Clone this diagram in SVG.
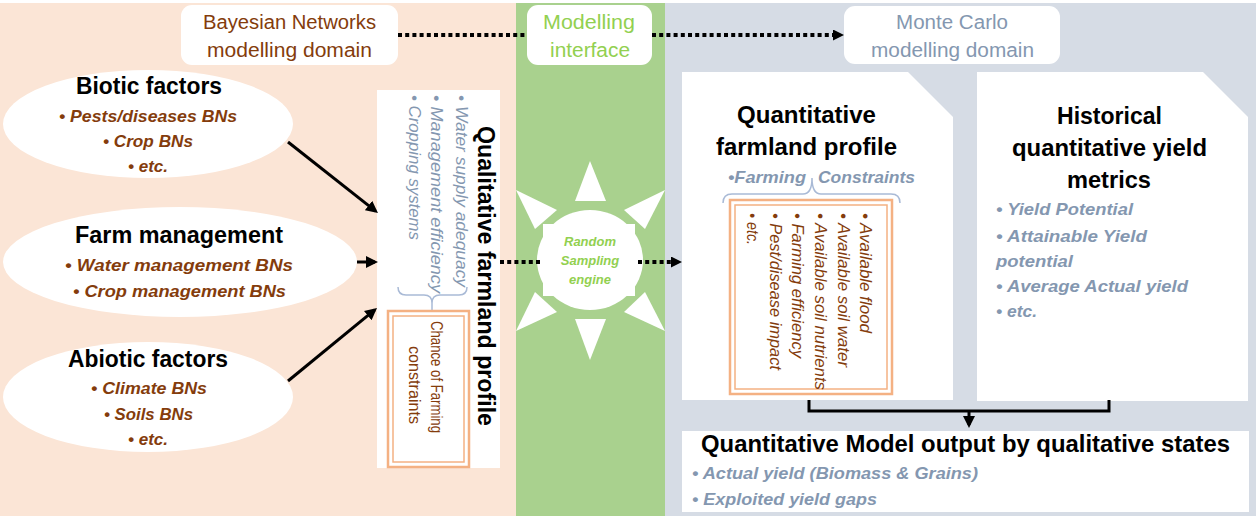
<svg xmlns="http://www.w3.org/2000/svg" width="1256" height="525" viewBox="0 0 1256 525">
<defs>
<style>
text{font-family:"Liberation Sans",Arial,sans-serif}
.h{font-weight:bold;fill:#000}
.lab{font-size:20px}
.br{fill:#843C0C;font-style:italic;font-weight:bold;font-size:17px}
.bl{fill:#8497B0;font-style:italic;font-weight:bold;font-size:17px}
.ri{fill:#8497B0;font-style:italic;font-size:16px}
.rb{fill:#843C0C;font-style:italic;font-size:17px}
.conn{stroke:#000;stroke-width:3;fill:none}
.dot{stroke:#000;stroke-width:4;stroke-dasharray:4 3.2;fill:none}
.dbl{fill:none;stroke:#F4B183}
.brace{fill:none;stroke:#A9BAD6;stroke-width:1.5}
.w{fill:#fff}
</style>
<marker id="ah" markerUnits="userSpaceOnUse" markerWidth="12" markerHeight="12" viewBox="0 0 12 12" refX="9" refY="6" orient="auto">
<path d="M0,0 L12,6 L0,12 Z" fill="#000"/>
</marker>
<marker id="ahd" markerUnits="userSpaceOnUse" markerWidth="11" markerHeight="11" viewBox="0 0 11 11" refX="3" refY="5.5" orient="auto">
<path d="M0,0 L11,5.5 L0,11 Z" fill="#000"/>
</marker>
</defs>
<rect x="0" y="0" width="1256" height="525" fill="#fff"/>
<g id="panels">
<rect x="0" y="3" width="516" height="513" fill="#FBE5D6"/>
<rect x="516" y="3" width="149" height="513" fill="#A9D18E"/>
<rect x="665" y="3" width="591" height="513" fill="#D6DCE5"/>
</g>

<g id="label-bn">
<rect x="181" y="5" width="217" height="60" rx="11" class="w"/>
<text x="289.5" y="29" class="lab" fill="#843C0C" text-anchor="middle" textLength="173" lengthAdjust="spacingAndGlyphs">Bayesian Networks</text>
<text x="289.5" y="57" class="lab" fill="#843C0C" text-anchor="middle" textLength="165" lengthAdjust="spacingAndGlyphs">modelling domain</text>
</g>
<g id="label-interface">
<rect x="527" y="5" width="125" height="60" rx="11" class="w"/>
<text x="589" y="29" class="lab" fill="#92D050" text-anchor="middle" textLength="92" lengthAdjust="spacingAndGlyphs">Modelling</text>
<text x="590" y="57" class="lab" fill="#92D050" text-anchor="middle" textLength="80" lengthAdjust="spacingAndGlyphs">interface</text>
</g>
<g id="label-mc">
<rect x="844" y="6" width="216" height="58" rx="11" class="w"/>
<text x="952" y="29" class="lab" fill="#8497B0" text-anchor="middle" textLength="112" lengthAdjust="spacingAndGlyphs">Monte Carlo</text>
<text x="952.5" y="57" class="lab" fill="#8497B0" text-anchor="middle" textLength="163" lengthAdjust="spacingAndGlyphs">modelling domain</text>
</g>

<g id="biotic">
<ellipse cx="148" cy="124" rx="145" ry="54" class="w"/>
<text x="149" y="94" class="h" font-size="23" text-anchor="middle" textLength="146" lengthAdjust="spacingAndGlyphs">Biotic factors</text>
<text x="148" y="122" class="br" text-anchor="middle" textLength="178" lengthAdjust="spacingAndGlyphs">• Pests/diseases  BNs</text>
<text x="148" y="147" class="br" text-anchor="middle" textLength="90" lengthAdjust="spacingAndGlyphs">• Crop BNs</text>
<text x="148" y="172" class="br" text-anchor="middle" textLength="40" lengthAdjust="spacingAndGlyphs">• etc.</text>
</g>
<g id="farm">
<ellipse cx="180" cy="262" rx="177" ry="55" class="w"/>
<text x="179" y="243" class="h" font-size="23" text-anchor="middle" textLength="208" lengthAdjust="spacingAndGlyphs">Farm management</text>
<text x="179" y="271" class="br" text-anchor="middle" textLength="228" lengthAdjust="spacingAndGlyphs">• Water management  BNs</text>
<text x="179.5" y="297" class="br" text-anchor="middle" textLength="213" lengthAdjust="spacingAndGlyphs">• Crop management  BNs</text>
</g>
<g id="abiotic">
<ellipse cx="148" cy="397" rx="145" ry="55" class="w"/>
<text x="148" y="367" class="h" font-size="23" text-anchor="middle" textLength="160" lengthAdjust="spacingAndGlyphs">Abiotic factors</text>
<text x="149" y="394" class="br" text-anchor="middle" textLength="116" lengthAdjust="spacingAndGlyphs">• Climate BNs</text>
<text x="148.5" y="420" class="br" text-anchor="middle" textLength="89" lengthAdjust="spacingAndGlyphs">• Soils BNs</text>
<text x="148" y="445" class="br" text-anchor="middle" textLength="40" lengthAdjust="spacingAndGlyphs">• etc.</text>
</g>

<g id="qualitative">
<rect x="377" y="90" width="123" height="378" class="w"/>
<text transform="translate(478,126) rotate(90)" class="h" font-size="23" textLength="300" lengthAdjust="spacingAndGlyphs">Qualitative farmland profile</text>
<text transform="translate(456,95) rotate(90)" class="ri" textLength="192" lengthAdjust="spacingAndGlyphs">• Water supply adequacy</text>
<text transform="translate(431,95) rotate(90)" class="ri" textLength="198" lengthAdjust="spacingAndGlyphs">• Management efficiency</text>
<text transform="translate(409,95) rotate(90)" class="ri" textLength="145" lengthAdjust="spacingAndGlyphs">• Cropping systems</text>
<path class="brace" d="M398,287 Q398,295 406,295 H424 Q432,295 432,303 V310 M432,303 Q432,295 440,295 H459 Q467,295 467,287"/>
<rect x="388" y="311" width="81" height="156" class="dbl" stroke-width="2.5"/>
<rect x="393" y="316" width="71" height="146" class="dbl" stroke-width="1.5"/>
<text transform="translate(431,321) rotate(90)" fill="#843C0C" font-size="16" textLength="112" lengthAdjust="spacingAndGlyphs">Chance of Farming</text>
<text transform="translate(409,346) rotate(90)" fill="#843C0C" font-size="16" textLength="78" lengthAdjust="spacingAndGlyphs">constraints</text>
</g>

<g id="engine">
<g class="w">
<ellipse cx="590" cy="260" rx="53" ry="50"/>
<rect x="543" y="224" width="92" height="72"/>
<polygon points="590,161 575,201 606,201"/>
<polygon points="590,360 575,319 606,319"/>
<polygon points="516,190 557,210 535,229"/>
<polygon points="665,190 624,210 645,229"/>
<polygon points="516,331 557,312 535,292"/>
<polygon points="665,331 624,312 645,292"/>
</g>
<g fill="#92D050" font-style="italic" font-weight="bold" font-size="13" text-anchor="middle">
<text x="590" y="246">Random</text>
<text x="590" y="265">Sampling</text>
<text x="590" y="284">engine</text>
</g>
</g>

<g id="quant-profile">
<path d="M682,72 H908 L953,117 V400 H682 Z" class="w"/>
<text x="806.5" y="123" class="h" font-size="24" text-anchor="middle" textLength="139" lengthAdjust="spacingAndGlyphs">Quantitative</text>
<text x="806.5" y="155" class="h" font-size="24" text-anchor="middle" textLength="181" lengthAdjust="spacingAndGlyphs">farmland profile</text>
<text y="183" class="bl"><tspan x="728" textLength="78" lengthAdjust="spacingAndGlyphs">•Farming</tspan><tspan x="818" textLength="97" lengthAdjust="spacingAndGlyphs">Constraints</tspan></text>
<path class="brace" d="M723,203 Q723,194 732,194 H803 Q812,194 812,178 Q812,194 821,194 H891 Q900,194 900,203"/>
<rect x="730" y="200" width="162" height="194" class="dbl" stroke-width="2.5"/>
<rect x="735" y="205" width="152" height="184" class="dbl" stroke-width="1.5"/>
<text transform="translate(860,213) rotate(90)" class="rb" textLength="120" lengthAdjust="spacingAndGlyphs">• Available flood</text>
<text transform="translate(838,213) rotate(90)" class="rb" textLength="154" lengthAdjust="spacingAndGlyphs">• Available soil water</text>
<text transform="translate(815,213) rotate(90)" class="rb" textLength="177" lengthAdjust="spacingAndGlyphs">• Available soil nutrients</text>
<text transform="translate(792,213) rotate(90)" class="rb" textLength="145" lengthAdjust="spacingAndGlyphs">• Farming efficiency</text>
<text transform="translate(770,213) rotate(90)" class="rb" textLength="157" lengthAdjust="spacingAndGlyphs">• Pest/disease impact</text>
<text transform="translate(747,213) rotate(90)" class="rb" textLength="32" lengthAdjust="spacingAndGlyphs">• etc.</text>
</g>

<g id="historical">
<path d="M977,72 H1203 L1248,117 V401 H977 Z" class="w"/>
<text x="1109.5" y="124" class="h" font-size="24" text-anchor="middle" textLength="105" lengthAdjust="spacingAndGlyphs">Historical</text>
<text x="1109.5" y="156" class="h" font-size="24" text-anchor="middle" textLength="195" lengthAdjust="spacingAndGlyphs">quantitative yield</text>
<text x="1109" y="188" class="h" font-size="24" text-anchor="middle" textLength="84" lengthAdjust="spacingAndGlyphs">metrics</text>
<text x="996" y="215" class="bl" textLength="137" lengthAdjust="spacingAndGlyphs">• Yield Potential</text>
<text x="996" y="242" class="bl" textLength="151" lengthAdjust="spacingAndGlyphs">• Attainable  Yield</text>
<text x="996" y="267" class="bl" textLength="77" lengthAdjust="spacingAndGlyphs">potential</text>
<text x="996" y="292" class="bl" textLength="192" lengthAdjust="spacingAndGlyphs">• Average  Actual yield</text>
<text x="996" y="317" class="bl" textLength="41" lengthAdjust="spacingAndGlyphs">• etc.</text>
</g>

<g id="output">
<rect x="682" y="431" width="567" height="81" class="w"/>
<text x="965.5" y="452" class="h" font-size="24" text-anchor="middle" textLength="529" lengthAdjust="spacingAndGlyphs">Quantitative Model output by qualitative states</text>
<text x="692" y="479" class="bl" textLength="286" lengthAdjust="spacingAndGlyphs">• Actual yield (Biomass &amp; Grains)</text>
<text x="692" y="505" class="bl" textLength="185" lengthAdjust="spacingAndGlyphs">• Exploited yield gaps</text>
</g>

<g id="connectors">
<line x1="288" y1="142" x2="375.6" y2="211.1" class="conn" marker-end="url(#ah)"/>
<line x1="357" y1="262" x2="375" y2="262" class="conn" marker-end="url(#ah)"/>
<line x1="288" y1="381" x2="374.7" y2="309.9" class="conn" marker-end="url(#ah)"/>
<line x1="398" y1="35" x2="527" y2="35" class="dot"/>
<line x1="652" y1="35" x2="836" y2="35" class="dot" marker-end="url(#ahd)"/>
<line x1="500" y1="262" x2="543" y2="262" class="dot"/>
<line x1="638" y1="262" x2="674" y2="262" class="dot" marker-end="url(#ahd)"/>
<path d="M809,400 V411 H1109 V400" class="conn"/>
<line x1="969" y1="411" x2="969" y2="425" class="conn" marker-end="url(#ah)"/>
</g>
</svg>
